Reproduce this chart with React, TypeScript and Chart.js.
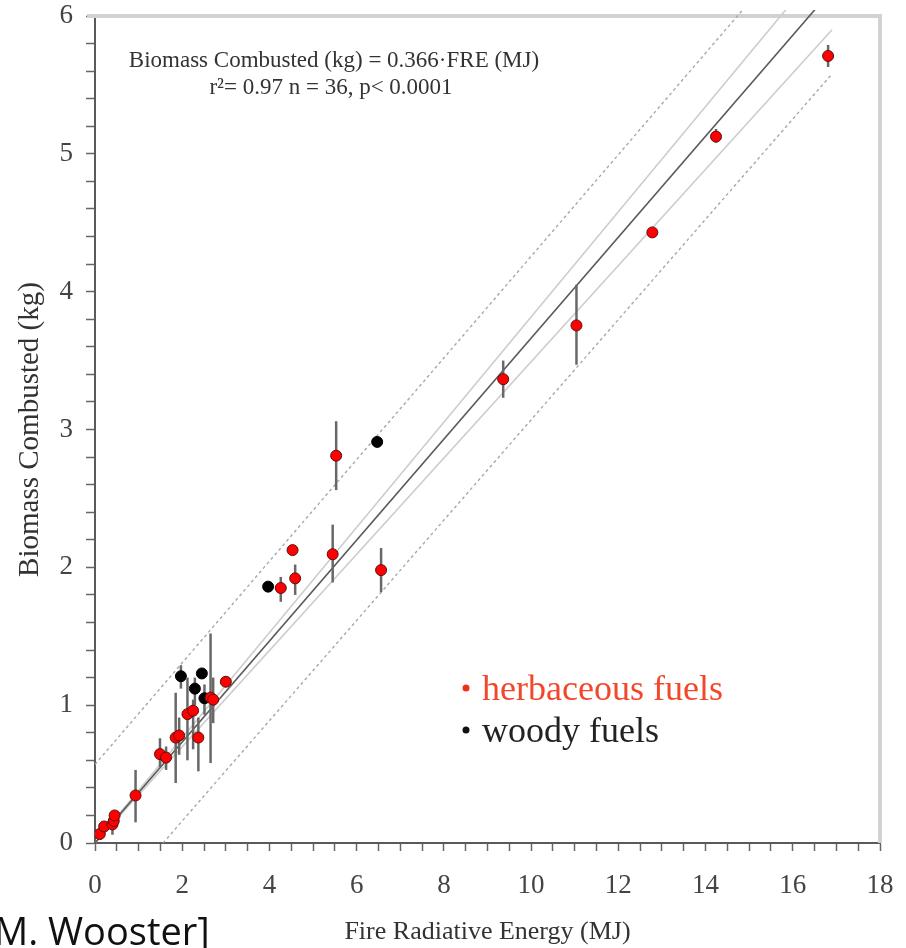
import React, { useEffect, useRef } from 'react';
import { Chart, registerables } from 'chart.js';

Chart.register(...registerables);

// Herbaceous fuels (red points)
const herbX = [0.11, 0.21, 0.4, 0.43, 0.45, 0.93, 1.49, 1.63, 1.85, 1.93, 2.12, 2.25, 2.37, 2.65, 2.71, 3.0, 4.26, 4.53, 4.59, 5.45, 5.53, 6.56, 9.36, 11.04, 12.78, 14.24, 16.81];
const herbY = [0.065, 0.12, 0.135, 0.16, 0.2, 0.345, 0.645, 0.62, 0.765, 0.78, 0.935, 0.96, 0.765, 1.055, 1.04, 1.17, 1.85, 2.125, 1.92, 2.095, 2.81, 1.98, 3.365, 3.755, 4.43, 5.125, 5.71];
const herbLo = [null, null, 0.06, 0.12, null, 0.15, 0.55, 0.53, 0.435, 0.64, 0.6, 0.68, 0.52, 0.58, 0.87, null, 1.75, null, 1.8, 1.89, 2.56, 1.82, 3.23, 3.47, null, 5.08, 5.63];
const herbHi = [null, null, 0.18, 0.22, null, 0.53, 0.76, 0.7, 1.09, 0.91, 1.2, 1.04, 0.91, 1.52, 1.2, null, 1.93, null, 2.02, 2.31, 3.06, 2.14, 3.5, 4.05, null, 5.18, 5.79];

// Woody fuels (black points)
const woodX = [1.97, 2.29, 2.45, 2.51, 3.97, 6.47];
const woodY = [1.21, 1.12, 1.23, 1.05, 1.86, 2.91];
const woodLo = [1.12, 1.0, null, 0.93, null, null];
const woodHi = [1.29, 1.2, null, 1.15, null, null];

// Fitted line and bands
const fitX = [0, 16.9];
const fitY = [0, 6.19];
const confHiY = [0, 6.45];
const confLoY = [0, 5.9];
const predHiX = [0, 16.9];
const predHiY = [0.57, 6.8];
const predLoX = [1.56, 16.9];
const predLoY = [0, 5.58];

// Axis ticks
const xTickLabels = [0, 2, 4, 6, 8, 10, 12, 14, 16, 18];
const yTickLabels = [0, 1, 2, 3, 4, 5, 6];

const equationLines = ['Biomass Combusted (kg) = 0.366\u00B7FRE (MJ)', 'r\u00B2= 0.97 n = 36, p< 0.0001'];
const legendItems = [
  { label: 'herbaceous fuels', color: '#f2472a', dot: '#f2301a' },
  { label: 'woody fuels', color: '#222222', dot: '#111111' },
];
const creditText = 'M. Wooster]';

const SERIF = '"Liberation Serif", "DejaVu Serif", serif';

function pts(xs: number[], ys: number[]) {
  return xs.map((x, i) => ({ x, y: ys[i] }));
}

export default function App() {
  const ref = useRef<HTMLCanvasElement>(null);

  useEffect(() => {
    const canvas = ref.current;
    if (!canvas) return;

    const errorBars = {
      id: 'errorBars',
      beforeDatasetDraw(chart: any, args: any) {
        const ds = chart.data.datasets[args.index];
        if (!ds.errLo) return;
        const { ctx, scales } = chart;
        const xs = scales.x;
        const ys = scales.y;
        ctx.save();
        ctx.strokeStyle = '#686868';
        ctx.lineWidth = 2.5;
        ds.data.forEach((p: any, i: number) => {
          const lo = ds.errLo[i];
          const hi = ds.errHi[i];
          if (lo == null || hi == null) return;
          const px = xs.getPixelForValue(p.x);
          ctx.beginPath();
          ctx.moveTo(px, ys.getPixelForValue(lo));
          ctx.lineTo(px, ys.getPixelForValue(hi));
          ctx.stroke();
        });
        ctx.restore();
      },
    };

    const frame = {
      id: 'frame',
      beforeDatasetsDraw(chart: any) {
        const { ctx, chartArea } = chart;
        const { left, top, right, bottom } = chartArea;
        ctx.save();
        ctx.strokeStyle = '#d2d2d2';
        ctx.lineWidth = 4;
        ctx.beginPath();
        ctx.moveTo(left - 8, top);
        ctx.lineTo(right, top);
        ctx.lineTo(right, bottom);
        ctx.stroke();
        ctx.restore();
      },
    };

    const texts = {
      id: 'texts',
      afterDraw(chart: any) {
        const { ctx } = chart;
        ctx.save();
        // equation
        ctx.fillStyle = '#333';
        ctx.font = `23px ${SERIF}`;
        ctx.textAlign = 'center';
        ctx.textBaseline = 'alphabetic';
        ctx.fillText(equationLines[0], 334, 67);
        ctx.fillText(equationLines[1], 331, 94);
        // legend
        ctx.font = `36px ${SERIF}`;
        ctx.textAlign = 'left';
        legendItems.forEach((it, i) => {
          const base = 700 + i * 42;
          ctx.fillStyle = it.dot;
          ctx.beginPath();
          ctx.arc(466, base - 12, 3.5, 0, Math.PI * 2);
          ctx.fill();
          ctx.fillStyle = it.color;
          ctx.fillText(it.label, 482, base);
        });
        // credit
        ctx.fillStyle = '#111';
        ctx.font = `38px "Open Sans", "Noto Sans", sans-serif`;
        ctx.fillText(creditText, -6, 945);
        ctx.restore();
      },
    };

    const lineDs = (data: any[], color: string, width: number, dash: number[] = []) => ({
      type: 'line' as const,
      data,
      borderColor: color,
      borderWidth: width,
      borderDash: dash,
      pointRadius: 0,
      fill: false,
      order: 10,
      clip: { left: 0, top: 6, right: 0, bottom: 0 },
    });

    const chart = new Chart(canvas, {
      type: 'scatter',
      data: {
        datasets: [
          {
            label: 'herbaceous fuels',
            data: pts(herbX, herbY),
            backgroundColor: '#ff0000',
            borderColor: '#5a1010',
            borderWidth: 1,
            pointRadius: 5.5,
            order: 1,
            errLo: herbLo,
            errHi: herbHi,
          } as any,
          {
            label: 'woody fuels',
            data: pts(woodX, woodY),
            backgroundColor: '#000000',
            borderColor: '#000000',
            borderWidth: 1,
            pointRadius: 5.5,
            order: 2,
            errLo: woodLo,
            errHi: woodHi,
          } as any,
          lineDs(pts(fitX, fitY), '#5a5a5a', 1.6),
          lineDs(pts(fitX, confHiY), '#cdcdcd', 1.6),
          lineDs(pts(fitX, confLoY), '#cdcdcd', 1.6),
          lineDs(pts(predHiX, predHiY), '#a8a8a8', 1.4, [3, 3]),
          lineDs(pts(predLoX, predLoY), '#a8a8a8', 1.4, [3, 3]),
        ],
      },
      options: {
        animation: false,
        responsive: false,
        maintainAspectRatio: false,
        layout: { padding: { top: 16, right: 26, left: 0, bottom: 0 } },
        plugins: { legend: { display: false }, tooltip: { enabled: false } },
        scales: {
          x: {
            type: 'linear',
            min: 0,
            max: 18,
            afterFit: (s: any) => {
              s.height = 105;
              s.paddingLeft = 0;
              s.paddingRight = 0;
            },
            ticks: {
              stepSize: 0.5,
              autoSkip: false,
              maxRotation: 0,
              padding: 19,
              color: '#444',
              font: { family: SERIF, size: 27 },
              callback: (v: any) => {
                const n = Number(v);
                return xTickLabels.some((t) => Math.abs(t - n) < 1e-6) ? String(Math.round(n)) : '';
              },
            },
            grid: { drawOnChartArea: false, drawTicks: true, tickLength: 8, tickColor: '#666', tickWidth: 1.5 },
            border: { display: true, color: '#5a5a5a', width: 2 },
            title: {
              display: true,
              text: 'Fire Radiative Energy (MJ)',
              color: '#333',
              font: { family: SERIF, size: 26 },
              padding: { top: 0, bottom: 0 },
            },
          },
          y: {
            type: 'linear',
            min: 0,
            max: 6,
            afterFit: (s: any) => {
              s.width = 95;
              s.paddingTop = 0;
              s.paddingBottom = 0;
            },
            ticks: {
              stepSize: 0.2,
              autoSkip: false,
              padding: 13,
              color: '#444',
              font: { family: SERIF, size: 27 },
              callback: (v: any) => {
                const n = Number(v);
                return yTickLabels.some((t) => Math.abs(t - n) < 1e-6) ? String(Math.round(n)) : '';
              },
            },
            grid: { drawOnChartArea: false, drawTicks: true, tickLength: 9, tickColor: '#666', tickWidth: 1.5 },
            border: { display: true, color: '#5a5a5a', width: 2 },
            title: {
              display: true,
              text: 'Biomass Combusted (kg)',
              color: '#333',
              font: { family: SERIF, size: 29 },
              padding: { top: 13, bottom: 0 },
            },
          },
        },
      },
      plugins: [errorBars, frame, texts],
    });

    return () => chart.destroy();
  }, []);

  return (
    <div style={{ position: 'absolute', left: 0, top: 0, width: 906, height: 948, background: '#fff' }}>
      <canvas ref={ref} width={906} height={948} style={{ display: 'block', width: 906, height: 948 }} />
    </div>
  );
}
